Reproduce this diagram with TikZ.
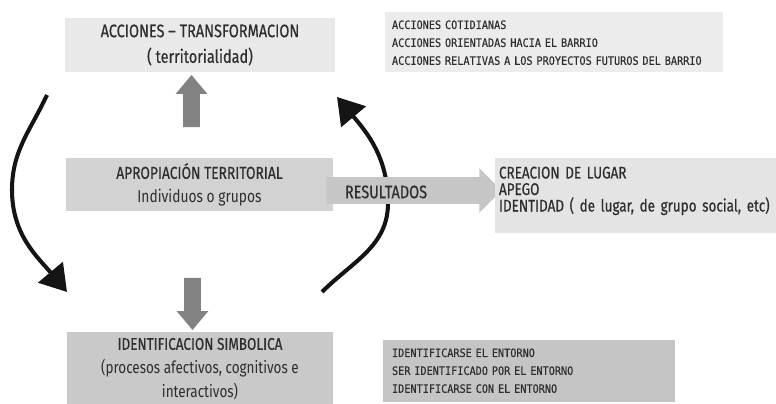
\documentclass[tikz,border=0pt]{standalone}
\usepackage{fontspec}
\setmainfont{Fira Sans}[FakeStretch=0.8]
\newfontfamily\titfont{Fira Sans}[FakeStretch=0.8,FakeBold=0.5]
\newfontfamily\listafont{DejaVu Sans Mono}[FakeStretch=0.88,FakeBold=0.3]
\usetikzlibrary{arrows.meta,shapes.arrows}
\newlength\pxu
\setlength\pxu{0.02cm}
\definecolor{texto}{HTML}{2E2E2E}
\definecolor{negro}{HTML}{141414}
\definecolor{cajaA}{HTML}{E9E9E9}
\definecolor{cajaB}{HTML}{ECECEC}
\definecolor{cajaM}{HTML}{D2D2D2}
\definecolor{cajaR}{HTML}{E4E4E4}
\definecolor{cajaS}{HTML}{C9C9C9}
\definecolor{cajaE}{HTML}{C5C5C5}
\definecolor{flechagris}{HTML}{828282}
\definecolor{flechares}{HTML}{C6C6C6}

\begin{document}
\begin{tikzpicture}[x=0.02cm,y=0.02cm,
    caja/.style={inner sep=0pt,align=center,text=texto},
    lista/.style={inner ysep=0pt,align=left,text=texto},
    bloque/.style={single arrow,fill=flechagris,inner sep=8\pxu,
      single arrow head extend=7.5\pxu,single arrow tip angle=80},
    ciclo/.style={line width=2.3pt,draw=negro,-{Triangle[length=14.7pt,width=18pt]}}]
  \useasboundingbox (0,0) rectangle (776,404);
  \coordinate (izqA) at (47,309);
  \coordinate (izqB) at (12,214);
  \coordinate (izqC) at (67,112);
  \coordinate (derA) at (322,112);
  \coordinate (derB) at (388,201);
  \coordinate (derC) at (337,307);
  \draw[ciclo] (izqA) to[out=245,in=90] (izqB) to[out=270,in=130] (izqC);
  \draw[ciclo] (derA) to[out=45,in=270] (derB) to[out=90,in=-50] (derC);

  \node[caja,fill=cajaA,minimum width=270\pxu,minimum height=54\pxu,
    font=\titfont\fontsize{10.3}{14.6}\selectfont] (acciones) at (200,359)
    {ACCIONES – TRANSFORMACION\\( territorialidad)};
  \node[lista,fill=cajaB,text width=324\pxu,inner xsep=7\pxu,text height=17\pxu,text depth=43\pxu,
    font=\listafont\fontsize{6.6}{10.2}\selectfont] (cotidianas) at (554,362)
    {ACCIONES COTIDIANAS\\ACCIONES ORIENTADAS HACIA EL BARRIO\\ACCIONES RELATIVAS A LOS PROYECTOS FUTUROS DEL BARRIO};
  \node[bloque,minimum height=52\pxu,shape border rotate=90] (sube) at (191.5,298) {};

  \node[caja,fill=cajaM,minimum width=267\pxu,minimum height=53\pxu,
    font=\fontsize{9.8}{13.3}\selectfont] (apropiacion) at (199.5,219.5)
    {{\titfont APROPIACIÓN TERRITORIAL}\\Individuos o grupos};
  \node[single arrow,fill=flechares,inner sep=13\pxu,minimum height=175\pxu,
    single arrow head extend=9\pxu] (flecha) at (407.5,213.5) {};
  \node[text=texto,font=\titfont\fontsize{10.3}{12}\selectfont] (resultados) at (386,212) {RESULTADOS};
  \node[lista,fill=cajaR,text width=273\pxu,inner xsep=4\pxu,text height=20.5\pxu,text depth=54.5\pxu,
    font=\titfont\fontsize{9.6}{9.4}\selectfont] (lugar) at (635.5,208.5)
    {CREACION DE LUGAR\\APEGO\\IDENTIDAD ( de lugar, de grupo social, etc)};

  \node[bloque,minimum height=52\pxu,shape border rotate=270] (baja) at (192.5,105) {};
  \node[caja,fill=cajaS,minimum width=266\pxu,minimum height=74\pxu,
    font=\fontsize{9.6}{13.6}\selectfont] (simbolica) at (200,35)
    {{\titfont IDENTIFICACION SIMBOLICA}\\(procesos afectivos, cognitivos e\\interactivos)};
  \node[lista,fill=cajaE,text width=274\pxu,inner xsep=9\pxu,text height=17\pxu,text depth=45\pxu,
    font=\listafont\fontsize{6.6}{10.2}\selectfont] (entorno) at (529,33)
    {IDENTIFICARSE EL ENTORNO\\SER IDENTIFICADO POR EL ENTORNO\\IDENTIFICARSE CON EL ENTORNO};
\end{tikzpicture}
\end{document}
